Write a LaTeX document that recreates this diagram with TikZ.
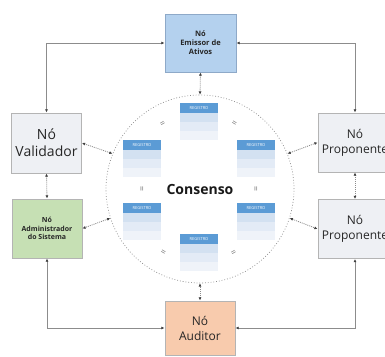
\documentclass[tikz,border=0pt]{standalone}
\usepackage{fontspec}
\setmainfont{Open Sans}
\usetikzlibrary{arrows.meta}
\definecolor{linegray}{HTML}{8C8C8C}
\definecolor{tipgray}{HTML}{404040}
\definecolor{boxborder}{HTML}{B4B4B4}
\definecolor{bluefill}{HTML}{B4D1EE}
\definecolor{blueborder}{HTML}{8EA9C8}
\definecolor{grayfill}{HTML}{EEF0F4}
\definecolor{greenfill}{HTML}{C6E0B4}
\definecolor{orangefill}{HTML}{F8CBAD}
\definecolor{regbar}{HTML}{5B9BD5}
\definecolor{rowa}{HTML}{D3E1F1}
\definecolor{rowb}{HTML}{E3EBF6}
\definecolor{rowc}{HTML}{EFF3F9}
\tikzset{
  box/.style={draw=boxborder, line width=0.9pt, rectangle, align=center, inner sep=1pt, text=black!85},
  conn/.style={draw=linegray, line width=0.9pt, {Latex[length=3.2pt,width=3pt,color=tipgray]}-{Latex[length=3.2pt,width=3pt,color=tipgray]}},
  dconn/.style={draw=linegray, line width=0.8pt, dash pattern=on 1pt off 1pt, {Latex[length=3.2pt,width=3pt,color=tipgray]}-{Latex[length=3.2pt,width=3pt,color=tipgray]}},
  eqmark/.style={text=black!55, font=\fontsize{9}{9}\selectfont, inner sep=0pt},
  registro/.pic={
    \fill[rowa] (0,10) rectangle (38,19);
    \fill[rowb] (0,19) rectangle (38,28);
    \fill[rowc] (0,28) rectangle (38,37);
    \fill[regbar] (0,0) rectangle (38,10);
    \node[text=white, font=\fontsize{4}{4}\selectfont, inner sep=0pt] at (19,5) {REGISTRO};
  }
}
\begin{document}
\begin{tikzpicture}[x=1pt, y=-1pt]
\clip (0,0) rectangle (385,356);
\fill[white] (0,0) rectangle (385,356);

% consensus circle
\node[circle, minimum size=188pt, inner sep=0pt, draw=linegray, line width=0.7pt, dash pattern=on 0.8pt off 2pt] (cons) at (200,189) {};
\node[font=\fontsize{14}{14}\selectfont\bfseries, text=black!90] (constext) at (200,189) {Consenso};

% registro stacks
\pic at (180,103) {registro};
\pic at (123,140) {registro};
\pic at (237,140) {registro};
\pic at (123,203) {registro};
\pic at (237,203) {registro};
\pic at (180,234) {registro};

% equal marks
\node[eqmark, rotate=30] (eq1) at (163,124) {=};
\node[eqmark, rotate=-30] (eq2) at (234,124) {=};
\node[eqmark, rotate=90] (eq3) at (143,189) {=};
\node[eqmark, rotate=90] (eq4) at (257,189) {=};
\node[eqmark, rotate=-30] (eq5) at (163,253) {=};
\node[eqmark, rotate=30] (eq6) at (234,253) {=};

% boxes
\node[box, draw=blueborder, fill=bluefill, minimum width=71pt, minimum height=58pt, font=\fontsize{7.5}{9}\selectfont\bfseries] (emissor) at (200.5,43) {Nó\\Emissor de\\Ativos};
\node[box, fill=grayfill, minimum width=70pt, minimum height=60pt, font=\fontsize{14}{17}\selectfont] (validador) at (46.5,143) {Nó\\Validador};
\node[box, fill=greenfill, minimum width=70pt, minimum height=59pt, font=\fontsize{7}{8.5}\selectfont\bfseries] (admin) at (47,228.5) {Nó\\Administrador\\do Sistema};
\node[box, fill=grayfill, minimum width=74pt, minimum height=59pt, font=\fontsize{12}{15}\selectfont] (prop1) at (355,142.5) {Nó\\Proponente};
\node[box, fill=grayfill, minimum width=74pt, minimum height=59pt, font=\fontsize{12}{15}\selectfont] (prop2) at (355,229) {Nó\\Proponente};
\node[box, fill=orangefill, minimum width=70pt, minimum height=54pt, font=\fontsize{12}{15}\selectfont] (auditor) at (200,328) {Nó\\Auditor};

% outer connectors
\draw[conn] (emissor.west) -| (validador.north);
\draw[conn] (emissor.east) -| (prop1.north);
\draw[conn] (admin.south) |- (auditor.west);
\draw[conn] (prop2.south) |- (auditor.east);

% dotted connectors
\draw[dconn] (validador.south) -- (admin.north);
\draw[dconn] (prop1.south) -- (prop2.north);
\draw[dconn] (emissor.south) -- (cons.north);
\draw[dconn] (auditor.north) -- (cons.south);
\draw[dconn] (cons.158) -- (validador.east);
\draw[dconn] (cons.198) -- (admin.east);
\draw[dconn] (cons.22) -- (prop1.west);
\draw[dconn] (cons.-18) -- (prop2.west);
\end{tikzpicture}
\end{document}
